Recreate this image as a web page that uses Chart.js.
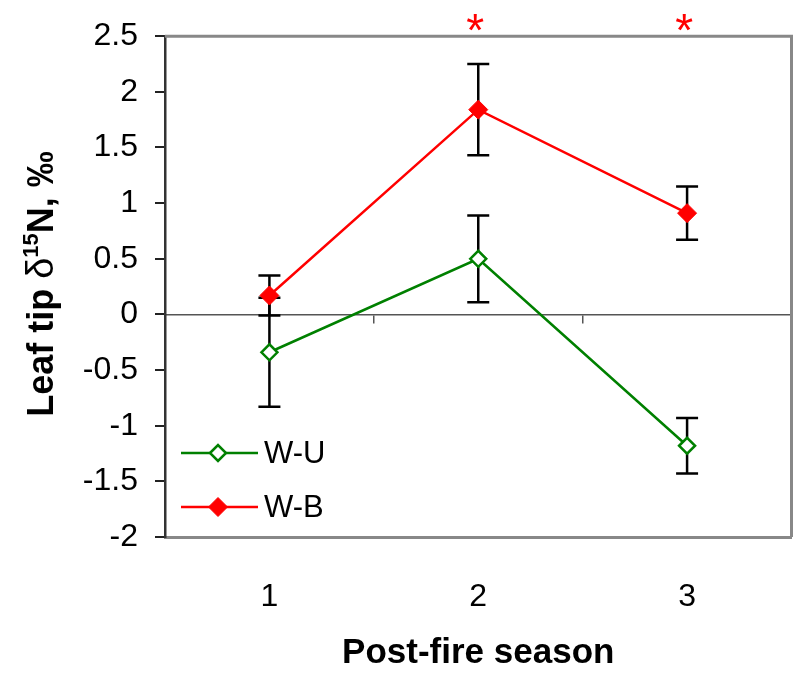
<!DOCTYPE html>
<html>
<head>
<meta charset="utf-8">
<script src="https://cdn.jsdelivr.net/npm/chart.js@4/dist/chart.umd.min.js"></script>
<style>
  body { margin: 0; background: #fff; }
  #wrap { width: 802px; height: 674px; }
</style>
</head>
<body>
<div id="wrap"><canvas id="chart1"></canvas></div>
<script>
const seasons = ["1", "2", "3"];
const wuMeans = [-0.34, 0.50, -1.18];
const wuErrors = [0.49, 0.39, 0.25];
const wbMeans = [0.17, 1.84, 0.91];
const wbErrors = [0.18, 0.41, 0.24];
const signif = ["", "*", "*"];

const FONT = "'Liberation Sans', Arial, sans-serif";

// error bars go under the markers
const errorBars = {
  id: "errorBars",
  beforeDatasetsDraw(chart) {
    const ctx = chart.ctx;
    const xs = chart.scales.x, ys = chart.scales.y;
    ctx.save();
    ctx.strokeStyle = "#000";
    ctx.lineWidth = 2.5;
    chart.data.datasets.forEach(ds => {
      ds.data.forEach((v, i) => {
        const px = xs.getPixelForValue(i);
        const top = ys.getPixelForValue(v + ds.errors[i]);
        const bot = ys.getPixelForValue(v - ds.errors[i]);
        ctx.beginPath();
        ctx.moveTo(px, top); ctx.lineTo(px, bot);
        ctx.moveTo(px - 11, top); ctx.lineTo(px + 11, top);
        ctx.moveTo(px - 11, bot); ctx.lineTo(px + 11, bot);
        ctx.stroke();
      });
    });
    // grey frame top and right
    const a = chart.chartArea;
    ctx.strokeStyle = "#888";
    ctx.lineWidth = 3;
    ctx.beginPath();
    ctx.moveTo(a.left, a.top); ctx.lineTo(a.right, a.top); ctx.lineTo(a.right, a.bottom);
    ctx.stroke();
    ctx.restore();
  }
};

// legend inside the plot, y title with superscript, significance stars
const extras = {
  id: "extras",
  afterDatasetsDraw(chart) {
    const ctx = chart.ctx;
    const a = chart.chartArea;
    ctx.save();

    // legend
    const rows = [453, 507];
    chart.data.datasets.forEach((ds, i) => {
      const y = rows[i];
      ctx.strokeStyle = ds.borderColor;
      ctx.lineWidth = ds.borderWidth;
      ctx.beginPath();
      ctx.moveTo(a.left + 16, y); ctx.lineTo(a.left + 93, y);
      ctx.stroke();
      ctx.fillStyle = ds.pointBackgroundColor;
      ctx.lineWidth = ds.pointBorderWidth;
      Chart.helpers.drawPoint(ctx, {
        pointStyle: ds.pointStyle, radius: ds.pointRadius, rotation: 0, borderWidth: ds.pointBorderWidth
      }, a.left + 53, y);
      ctx.fillStyle = "#000";
      ctx.font = "31px " + FONT;
      ctx.textBaseline = "middle";
      ctx.textAlign = "left";
      ctx.fillText(ds.label, a.left + 99, y + 1);
    });

    // stars above the plot
    const xs = chart.scales.x;
    ctx.fillStyle = "#ff0000";
    ctx.font = "46px " + FONT;
    ctx.textAlign = "center";
    ctx.textBaseline = "alphabetic";
    signif.forEach((s, i) => {
      if (s) ctx.fillText(s, xs.getPixelForValue(i) - 3, 46);
    });

    // y title
    const parts = [
      { t: "Leaf tip ", f: "bold 36px " + FONT, dy: 0 },
      { t: "\u03b4", f: "38px " + FONT, dy: 0 },
      { t: "15", f: "bold 22px " + FONT, dy: -15 },
      { t: "N, \u2030", f: "bold 36px " + FONT, dy: 0 }
    ];
    let total = 0;
    parts.forEach(p => { ctx.font = p.f; p.w = ctx.measureText(p.t).width; total += p.w; });
    ctx.translate(53, 284);
    ctx.rotate(-Math.PI / 2);
    ctx.fillStyle = "#000";
    ctx.textAlign = "left";
    ctx.textBaseline = "alphabetic";
    let x = -total / 2;
    parts.forEach(p => {
      ctx.font = p.f;
      ctx.fillText(p.t, x, p.dy);
      x += p.w;
    });
    ctx.restore();
  }
};

new Chart(document.getElementById("chart1").getContext("2d"), {
  type: "line",
  data: {
    labels: seasons,
    datasets: [
      {
        label: "W-U",
        data: wuMeans,
        errors: wuErrors,
        borderColor: "#008000",
        borderWidth: 2.5,
        pointStyle: "rectRot",
        pointRadius: 8,
        pointBorderWidth: 2.5,
        pointBackgroundColor: "#ffffff",
        pointBorderColor: "#008000",
        fill: false,
      },
      {
        label: "W-B",
        data: wbMeans,
        errors: wbErrors,
        borderColor: "#ff0000",
        borderWidth: 2.5,
        pointStyle: "rectRot",
        pointRadius: 9.5,
        pointBorderWidth: 1,
        pointBackgroundColor: "#ff0000",
        pointBorderColor: "#ff0000",
        fill: false,
      },
    ],
  },
  options: {
    responsive: true,
    maintainAspectRatio: false,
    animation: false,
    layout: { padding: { top: 35, right: 8, left: 0, bottom: 0 } },
    plugins: {
      legend: { display: false },
      tooltip: { enabled: false },
    },
    scales: {
      x: {
        type: "category",
        position: "bottom",
        offset: true,
        grid: { display: false },
        border: { display: true, color: "#888", width: 3 },
        ticks: { color: "#000", font: { family: FONT, size: 32 }, padding: 33 },
        title: {
          display: true,
          text: "Post-fire season",
          color: "#000",
          font: { family: FONT, size: 35, weight: "bold" },
          padding: { top: 0, bottom: 0 },
        },
        afterFit(scale) { scale.height = 137; },
      },
      x0: {
        type: "category",
        axis: "x",
        position: { y: 0 },
        offset: true,
        grid: { offset: true, drawOnChartArea: false, tickLength: 8, color: "#555", lineWidth: 1.5 },
        border: { display: true, color: "#555", width: 1.5 },
        ticks: { display: false },
      },
      y: {
        min: -2,
        max: 2.5,
        grid: { drawOnChartArea: false, tickLength: 10, color: "#222", lineWidth: 2 },
        border: { display: true, color: "#333", width: 2.5 },
        ticks: {
          stepSize: 0.5,
          color: "#000",
          font: { family: FONT, size: 32 },
          padding: 17,
          callback: v => String(v),
        },
        afterFit(scale) { scale.width = 165; },
      },
    },
  },
  plugins: [errorBars, extras],
});
</script>
</body>
</html>
